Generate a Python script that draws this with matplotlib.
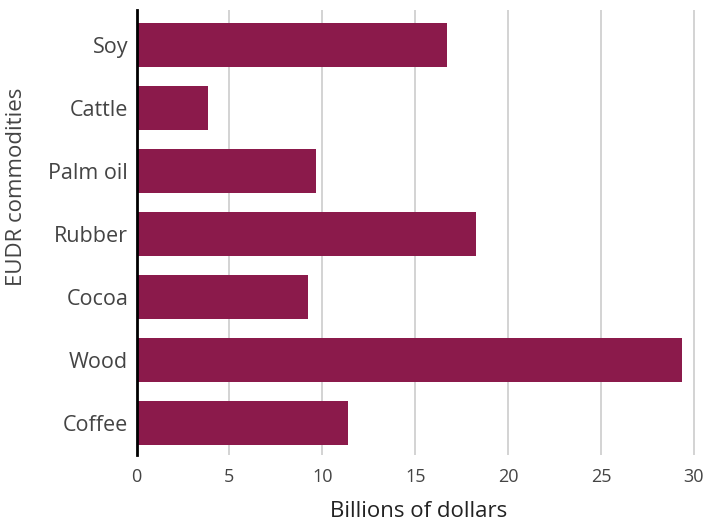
import matplotlib
matplotlib.use("Agg")
import matplotlib.pyplot as plt

categories = ["Soy", "Cattle", "Palm oil", "Rubber", "Cocoa", "Wood", "Coffee"]
values = [16.7, 3.85, 9.65, 18.27, 9.23, 29.36, 11.41]
xticks = [0, 5, 10, 15, 20, 25, 30]

plt.rcParams['font.family'] = ['Open Sans', 'DejaVu Sans']

fig = plt.figure(figsize=(7.04, 5.23), dpi=100)
W, H = 704, 523
ax = fig.add_axes([136.5 / W, 1 - 455 / H, (700 - 136.5) / W, (455 - 10) / H])

y = list(range(len(categories)))
ax.barh(y, values, height=0.7, color="#8B1A4B", zorder=2)
ax.set_ylim(6.51, -0.556)
ax.set_xlim(0, 30.33)
ax.set_xticks(xticks)
ax.set_yticks(y)
ax.set_yticklabels(categories, fontsize=15.5, color="#444444")
ax.set_xticklabels([str(t) for t in xticks], fontsize=13, color="#444444")
ax.tick_params(axis='both', length=0)
ax.tick_params(axis='y', pad=6)
ax.tick_params(axis='x', pad=9)
ax.grid(axis='x', color="#cccccc", linewidth=1.2, zorder=0)
for s in ["top", "right", "bottom"]:
    ax.spines[s].set_visible(False)
ax.spines["left"].set_color("black")
ax.spines["left"].set_linewidth(2)
ax.spines["left"].set_zorder(3)
ax.set_xlabel("Billions of dollars", fontsize=16, color="#222222", labelpad=11)
ax.set_ylabel("EUDR commodities", fontsize=16, color="#444444", va="center")
ax.yaxis.set_label_coords((16.5 - 136.5) / 563.5, (455 - 187) / 445)

fig.savefig("out.png", dpi=100)
